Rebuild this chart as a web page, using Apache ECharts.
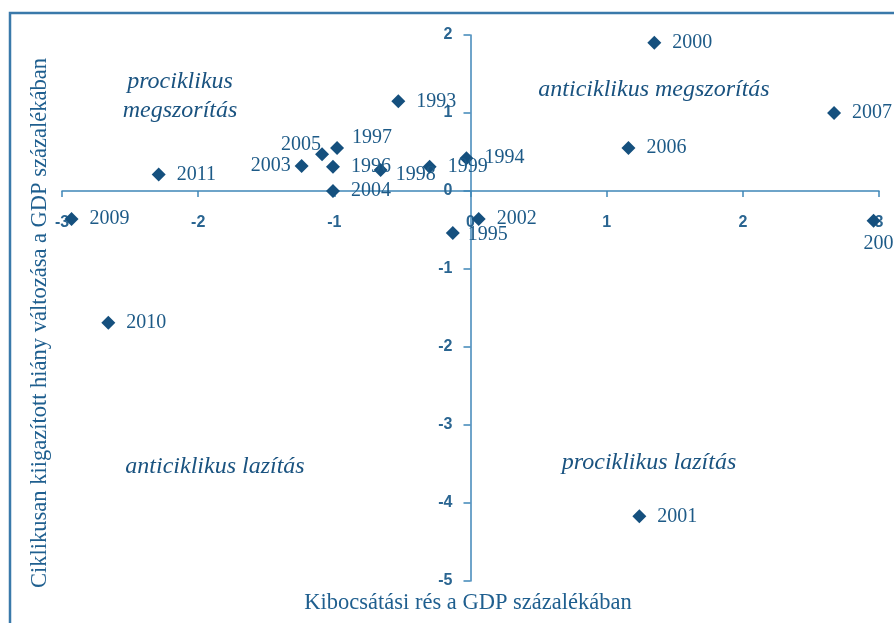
<!DOCTYPE html>
<html>
<head>
<meta charset="utf-8">
<script src="https://cdn.jsdelivr.net/npm/echarts@6/dist/echarts.min.js"></script>
<style>
  html, body { margin: 0; padding: 0; background: #fff; }
  #chart { width: 894px; height: 623px; }
</style>
</head>
<body>
<div id="chart"></div>
<script>
// évek és értékek (kibocsátási rés, ciklikusan kiigazított hiány változása)
const years = ['1993', '1994', '1995', '1996', '1997', '1998', '1999', '2000', '2001', '2002',
	'2003', '2004', '2005', '2006', '2007', '2008', '2009', '2010', '2011']
const outputGap = [-0.53, -0.03, -0.13, -1.01, -0.98, -0.66, -0.30, 1.35, 1.24, 0.06,
	-1.24, -1.01, -1.09, 1.16, 2.67, 2.96, -2.93, -2.66, -2.29]
const deficitChange = [1.15, 0.42, -0.54, 0.31, 0.55, 0.27, 0.31, 1.90, -4.17, -0.36,
	0.32, 0.00, 0.47, 0.55, 1.00, -0.38, -0.36, -1.69, 0.21]
const xTicks = [-3, -2, -1, 0, 1, 2, 3]
const yTicks = [-5, -4, -3, -2, -1, 0, 1, 2]

// címkék elhelyezése ahol nem jobbra esik
const labelPlace = {
	'2003': { position: 'left', distance: 4 },
	'2005': { position: 'left', distance: 2, offset: [8, -10] },
	'1997': { position: 'right', distance: 8, offset: [0, -10] },
	'1998': { position: 'right', distance: 8, offset: [0, 5] },
	'1995': { position: 'right', distance: 8, offset: [0, 2] },
	'2008': { position: 'bottom', distance: 6, offset: [10, 0] }
}

const mainColor = '#15507e'
const axisColor = '#3f86b8'
const textColor = '#1d5a87'

// rácsterület (a tengelyek a nullpontban metszik egymást)
const gridBox = { left: 62, right: 15, top: 35, bottom: 42 }
const plotW = 894 - gridBox.left - gridBox.right
const plotH = 623 - gridBox.top - gridBox.bottom
const zeroX = gridBox.left + plotW * (0 - xTicks[0]) / (xTicks[xTicks.length - 1] - xTicks[0])
const zeroY = gridBox.top + plotH * (yTicks[yTicks.length - 1] - 0) / (yTicks[yTicks.length - 1] - yTicks[0])

const chartDom = document.getElementById('chart')
const myChart = echarts.init(chartDom)

const points = years.map((y, i) => {
	const item = { name: y, value: [outputGap[i], deficitChange[i]] }
	if (labelPlace[y]) item.label = labelPlace[y]
	return item
})

const italic = (text, x, y) => ({
	type: 'text',
	x: x,
	y: y,
	style: {
		text: text,
		font: 'italic 24px "Liberation Serif", serif',
		fill: '#1a5380',
		textAlign: 'center',
		textVerticalAlign: 'middle'
	}
})

const tickLabel = {
	color: '#2a6591',
	fontSize: 16,
	fontWeight: 'bold',
	fontFamily: 'Liberation Sans'
}

const option = {
	animation: false,
	grid: gridBox,
	xAxis: {
		type: 'value',
		position: 'bottom',
		offset: -(623 - gridBox.bottom - zeroY),
		min: xTicks[0],
		max: xTicks[xTicks.length - 1],
		interval: 1,
		splitLine: { show: false },
		axisLine: { onZero: false, lineStyle: { color: axisColor, width: 1.5 } },
		axisTick: { show: true, length: 6, lineStyle: { color: axisColor, width: 1.5 } },
		axisLabel: Object.assign({ margin: 24 }, tickLabel)
	},
	yAxis: {
		type: 'value',
		position: 'left',
		offset: -(zeroX - gridBox.left),
		min: yTicks[0],
		max: yTicks[yTicks.length - 1],
		interval: 1,
		splitLine: { show: false },
		axisLine: { onZero: false, lineStyle: { color: axisColor, width: 1.5 } },
		axisTick: { show: true, length: 7, lineStyle: { color: axisColor, width: 1.5 } },
		axisLabel: Object.assign({ margin: 18 }, tickLabel)
	},
	series: [
		{
			type: 'scatter',
			symbol: 'diamond',
			symbolSize: 14,
			itemStyle: { color: mainColor, opacity: 1 },
			label: {
				show: true,
				position: 'right',
				distance: 11,
				formatter: '{b}',
				color: textColor,
				fontSize: 20,
				fontFamily: 'Liberation Serif'
			},
			data: points
		}
	],
	graphic: [
		{
			type: 'polyline',
			shape: { points: [[10, 640], [10, 13], [910, 13]] },
			style: { stroke: '#3a79aa', lineWidth: 2.5, fill: null }
		},
		italic('prociklikus', 180, 82),
		italic('megszorítás', 180, 111),
		italic('anticiklikus megszorítás', 654, 90),
		italic('anticiklikus lazítás', 215, 467),
		italic('prociklikus lazítás', 649, 463),
		{
			type: 'text',
			x: 468,
			y: 603,
			style: {
				text: 'Kibocsátási rés a GDP százalékában',
				font: '22.5px "Liberation Serif", serif',
				fill: '#1f5f8f',
				textAlign: 'center',
				textVerticalAlign: 'middle'
			}
		},
		{
			type: 'text',
			x: 40,
			y: 323,
			rotation: Math.PI / 2,
			style: {
				text: 'Ciklikusan kiigazított hiány változása a GDP százalékában',
				font: '22.5px "Liberation Serif", serif',
				fill: '#1f5f8f',
				textAlign: 'center',
				textVerticalAlign: 'middle'
			}
		}
	]
}

option && myChart.setOption(option)
</script>
</body>
</html>
